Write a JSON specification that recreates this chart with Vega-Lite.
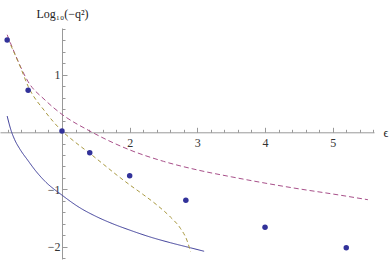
{
  "$schema": "https://vega.github.io/schema/vega-lite/v6.json",
  "width": 374,
  "height": 231,
  "autosize": {"type": "none"},
  "padding": {"left": 0, "top": 28, "right": 16, "bottom": 1},
  "background": "white",
  "config": {
    "view": {"stroke": null},
    "axis": {"grid": false, "labelFont": "Liberation Serif", "titleFont": "Liberation Serif", "labelFontSize": 12, "titleFontSize": 12, "labelColor": "#333", "titleColor": "#222", "titleFontWeight": "normal", "domainColor": "#999", "tickColor": "#999"}
  },
  "data": {"values": [
    {"eps": 0.19, "val": 1.61, "series": "P"},
    {"eps": 0.5, "val": 0.73, "series": "P"},
    {"eps": 1.0, "val": 0.02, "series": "P"},
    {"eps": 1.41, "val": -0.36, "series": "P"},
    {"eps": 2.0, "val": -0.76, "series": "P"},
    {"eps": 2.83, "val": -1.19, "series": "P"},
    {"eps": 4.0, "val": -1.66, "series": "P"},
    {"eps": 5.2, "val": -2.02, "series": "P"},

    {"eps": 0.19, "val": 0.28, "series": "A"},
    {"eps": 0.25, "val": 0.02, "series": "A"},
    {"eps": 0.3, "val": -0.13, "series": "A"},
    {"eps": 0.38, "val": -0.3, "series": "A"},
    {"eps": 0.5, "val": -0.5, "series": "A"},
    {"eps": 0.6, "val": -0.66, "series": "A"},
    {"eps": 0.75, "val": -0.86, "series": "A"},
    {"eps": 1.0, "val": -1.1, "series": "A"},
    {"eps": 1.25, "val": -1.31, "series": "A"},
    {"eps": 1.5, "val": -1.47, "series": "A"},
    {"eps": 1.75, "val": -1.6, "series": "A"},
    {"eps": 2.0, "val": -1.71, "series": "A"},
    {"eps": 2.3, "val": -1.83, "series": "A"},
    {"eps": 2.6, "val": -1.93, "series": "A"},
    {"eps": 2.9, "val": -2.02, "series": "A"},
    {"eps": 3.1, "val": -2.08, "series": "A"},

    {"eps": 0.19, "val": 1.7, "series": "B"},
    {"eps": 0.3, "val": 1.38, "series": "B"},
    {"eps": 0.5, "val": 0.88, "series": "B"},
    {"eps": 0.75, "val": 0.56, "series": "B"},
    {"eps": 1.0, "val": 0.31, "series": "B"},
    {"eps": 1.41, "val": 0.02, "series": "B"},
    {"eps": 2.0, "val": -0.31, "series": "B"},
    {"eps": 2.5, "val": -0.51, "series": "B"},
    {"eps": 3.0, "val": -0.66, "series": "B"},
    {"eps": 3.5, "val": -0.78, "series": "B"},
    {"eps": 4.0, "val": -0.89, "series": "B"},
    {"eps": 4.5, "val": -0.99, "series": "B"},
    {"eps": 5.0, "val": -1.08, "series": "B"},
    {"eps": 5.52, "val": -1.18, "series": "B"},

    {"eps": 0.2, "val": 1.63, "series": "C"},
    {"eps": 0.38, "val": 1.15, "series": "C"},
    {"eps": 0.5, "val": 0.8, "series": "C"},
    {"eps": 0.75, "val": 0.36, "series": "C"},
    {"eps": 1.0, "val": 0.02, "series": "C"},
    {"eps": 1.2, "val": -0.18, "series": "C"},
    {"eps": 1.41, "val": -0.37, "series": "C"},
    {"eps": 1.6, "val": -0.55, "series": "C"},
    {"eps": 1.8, "val": -0.74, "series": "C"},
    {"eps": 2.0, "val": -0.92, "series": "C"},
    {"eps": 2.2, "val": -1.09, "series": "C"},
    {"eps": 2.4, "val": -1.27, "series": "C"},
    {"eps": 2.6, "val": -1.48, "series": "C"},
    {"eps": 2.75, "val": -1.68, "series": "C"},
    {"eps": 2.85, "val": -1.9, "series": "C"},
    {"eps": 2.9, "val": -2.09, "series": "C"}
  ]},
  "resolve": {"axis": {"x": "independent", "y": "independent"}},
  "layer": [
    {
      "transform": [{"filter": "datum.series !== 'P'"}],
      "mark": {"type": "line", "strokeWidth": 1, "interpolate": "monotone"},
      "encoding": {
        "x": {"field": "eps", "type": "quantitative", "scale": {"domain": [0.084, 5.61], "nice": false, "zero": false},
          "axis": {"orient": "bottom", "offset": -126.7, "values": [0.2,0.4,0.6,0.8,1.2,1.4,1.6,1.8,2.2,2.4,2.6,2.8,3.2,3.4,3.6,3.8,4.2,4.4,4.6,4.8,5.2,5.4,5.6], "labels": false, "tickSize": -3, "title": null, "domain": true}},
        "y": {"field": "val", "type": "quantitative", "scale": {"domain": [-2.215, 1.818], "nice": false, "zero": false},
          "axis": {"orient": "left", "offset": -62, "values": [-2.2,-1.8,-1.6,-1.4,-1.2,-0.8,-0.6,-0.4,-0.2,0.2,0.4,0.6,0.8,1.2,1.4,1.6,1.8], "labels": false, "tickSize": -3, "title": null, "domain": true}},
        "color": {"field": "series", "type": "nominal", "scale": {"domain": ["A", "B", "C"], "range": ["#3d3d99", "#a8508a", "#a8983f"]}, "legend": null},
        "strokeDash": {"field": "series", "type": "nominal", "scale": {"domain": ["A", "B", "C"], "range": [[1, 0], [5, 3], [4, 3]]}, "legend": null}
      }
    },
    {
      "transform": [{"filter": "datum.series === 'P'"}],
      "mark": {"type": "point", "filled": true, "size": 30, "opacity": 1, "color": "#32329a"},
      "encoding": {
        "x": {"field": "eps", "type": "quantitative",
          "axis": {"orient": "bottom", "offset": -126.7, "values": [1, 2, 3, 4, 5], "labelExpr": "datum.value == 1 ? '' : datum.label", "tickSize": -5, "labelPadding": 10, "domain": false, "title": "ϵ", "titleX": 383, "titleY": 0, "titleAlign": "left", "titleBaseline": "middle", "titleAngle": 0}},
        "y": {"field": "val", "type": "quantitative",
          "axis": {"orient": "left", "offset": -62, "values": [-2, -1, 0, 1], "labelExpr": "datum.value == 0 ? '' : datum.label", "tickSize": -5, "labelPadding": 7, "domain": false, "title": "Log₁₀(−q²)", "titleAngle": 0, "titleX": 0, "titleY": -15, "titleAlign": "center", "titleBaseline": "middle"}}
      }
    }
  ]
}
